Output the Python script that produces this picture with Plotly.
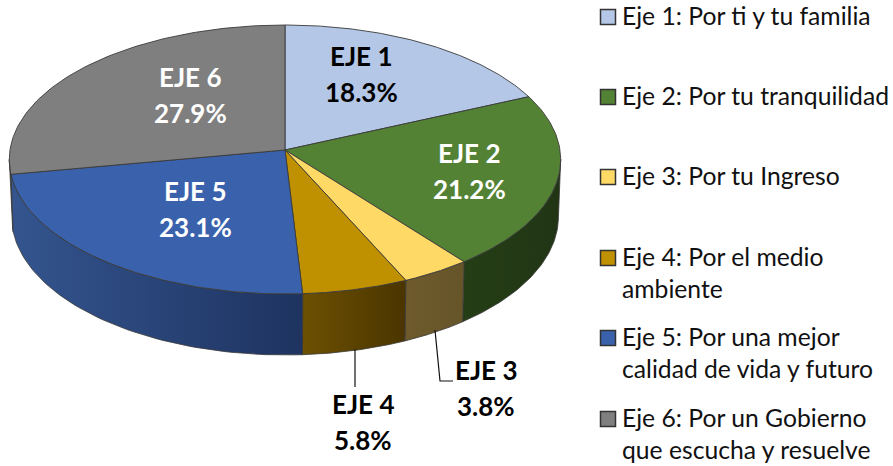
import numpy as np
import plotly.graph_objects as go

# ---- data ----
SHORT = ["EJE 1", "EJE 2", "EJE 3", "EJE 4", "EJE 5", "EJE 6"]
VALUES = [18.3, 21.2, 3.8, 5.8, 23.1, 27.9]
LEGEND_LINES = [
    ["Eje 1: Por ti y tu familia"],
    ["Eje 2: Por tu tranquilidad"],
    ["Eje 3: Por tu Ingreso"],
    ["Eje 4: Por el medio", "ambiente"],
    ["Eje 5: Por una mejor", "calidad de vida y futuro"],
    ["Eje 6: Por un Gobierno", "que escucha y resuelve"],
]
TOP_COLORS = ["#B4C7E7", "#548235", "#FFD966", "#BF9000", "#3A62AC", "#7F7F7F"]
WALL_GRAD = [None,
             ("#253E16", "#213515"),
             ("#6E5A2C", "#665529"),
             ("#6D5002", "#4A3500"),
             ("#34558F", "#1E3360"),
             ("#4A4A4A", "#4A4A4A")]

# ---- geometry of the projected disc (pixel-mapped axes) ----
CX, CY, A, B, K = 285.0, 150.0, 275.0, 133.8, 0.0706
DEPTH, LOWER_SHRINK = 56.7, 0.992
LEFT_EXTREME, RIGHT_EXTREME = 266.0, 94.0
OUTLINE = "#3A3A3A"
FONT = "Lato"


def top_pt(deg):
    t = np.radians(deg)
    w = 1 + K * np.cos(t)
    return CX + A * np.sin(t) / w, CY - B * np.cos(t) / w


def low_pt(deg):
    t = np.radians(deg)
    w = 1 + K * np.cos(t)
    return CX + LOWER_SHRINK * A * np.sin(t) / w, CY - B * np.cos(t) / w + DEPTH / w


edges = np.concatenate([[0], np.cumsum(VALUES)]) / sum(VALUES) * 360
fig = go.Figure()

# side walls, back to front
for i in [1, 5, 2, 3, 4]:
    a0 = max(edges[i], RIGHT_EXTREME)
    a1 = min(edges[i + 1], LEFT_EXTREME)
    ts = np.linspace(a0, a1, 60)
    tx, ty = top_pt(ts)
    lx, ly = low_pt(ts[::-1])
    x = np.r_[tx, lx, tx[0]]
    y = np.r_[ty, ly, ty[0]]
    c0, c1 = WALL_GRAD[i]
    fig.add_trace(go.Scatter(
        x=x, y=y, mode="lines", fill="toself",
        line=dict(color=OUTLINE, width=0.8),
        fillgradient=dict(type="horizontal", colorscale=[[0, c0], [1, c1]]),
        hoverinfo="skip", showlegend=False))

# top faces
for i in range(len(VALUES)):
    ts = np.linspace(edges[i], edges[i + 1], 100)
    tx, ty = top_pt(ts)
    fig.add_trace(go.Scatter(
        x=np.r_[CX, tx, CX], y=np.r_[CY, ty, CY], mode="lines", fill="toself",
        fillcolor=TOP_COLORS[i], line=dict(color=OUTLINE, width=0.9),
        hoverinfo="skip", showlegend=False))

# leader lines
for lx, ly in [([355, 355], [349, 387]), ([435, 440, 453], [330, 381, 381])]:
    fig.add_trace(go.Scatter(x=lx, y=ly, mode="lines",
                             line=dict(color="#111111", width=1.2),
                             hoverinfo="skip", showlegend=False))

# legend swatches
SW_Y = [17, 97, 177, 258, 338, 419]
fig.add_trace(go.Scatter(
    x=[608] * 6, y=SW_Y, mode="markers",
    marker=dict(symbol="square", size=15, color=TOP_COLORS,
                line=dict(color="#333333", width=1.5)),
    hoverinfo="skip", showlegend=False))

LABEL_POS = [(361, 56, "#000000"), (469, 153, "#FFFFFF"), (486, 370, "#000000"),
             (363, 404, "#000000"), (195, 191, "#FFFFFF"), (190, 77, "#FFFFFF")]
LINE_GAP = 36
annotations = []
for name, v, (x, y, col) in zip(SHORT, VALUES, LABEL_POS):
    for j, txt in enumerate([name, f"{v:.1f}%"]):
        annotations.append(dict(x=x, y=y + j * LINE_GAP, text=f"<b>{txt}</b>", showarrow=False,
                                xanchor="center", yanchor="middle",
                                font=dict(family=FONT, size=26, color=col)))
for lines, y0 in zip(LEGEND_LINES, SW_Y):
    for j, txt in enumerate(lines):
        annotations.append(dict(x=620, y=y0 - 2 + j * 32, text=txt, showarrow=False,
                                xanchor="left", yanchor="middle",
                                font=dict(family=FONT, size=24.7, color="#111111")))

fig.update_layout(
    width=893, height=466, margin=dict(l=0, r=0, t=0, b=0),
    paper_bgcolor="white", plot_bgcolor="white", showlegend=False,
    xaxis=dict(range=[0, 893], visible=False, fixedrange=True),
    yaxis=dict(range=[466, 0], visible=False, fixedrange=True),
    annotations=annotations,
)
fig.write_html("out.html", config={"displayModeBar": False},
               post_script="document.body.style.margin='0';document.body.style.overflow='hidden';")
